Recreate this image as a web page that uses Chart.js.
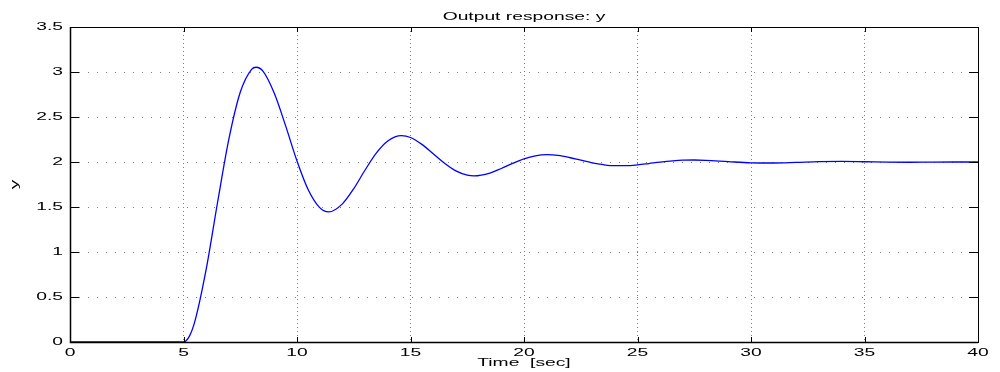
<!DOCTYPE html>
<html>
<head>
<meta charset="utf-8">
<script src="https://cdn.jsdelivr.net/npm/chart.js@4/dist/chart.umd.min.js"></script>
<style>
  html, body { margin: 0; padding: 0; background: #fff; }
  #wrap { width: 1000px; height: 372px; position: relative; }
</style>
</head>
<body>
<div id="wrap"><canvas id="c" width="1000" height="372"></canvas></div>
<script>
// ---- data ----
const timeSec = [0, 1, 2, 3, 4, 5, 5.25, 5.5, 6, 6.5, 7, 7.5, 8, 8.2, 8.5, 9, 9.5, 10, 10.5, 11, 11.4, 12, 12.5, 13, 13.5, 14, 14.6, 15, 15.5, 16, 16.5, 17, 17.5, 17.8, 18.5, 19, 19.5, 20, 20.5, 21, 21.5, 22, 22.5, 23, 23.5, 24, 24.5, 25, 25.5, 26, 27, 27.5, 28, 29, 30, 31, 32, 33, 34, 35, 36, 37, 38, 39, 40];
const outputY = [0, 0, 0, 0, 0, 0, 0.060, 0.229, 0.810, 1.550, 2.256, 2.775, 3.030, 3.053, 3.010, 2.764, 2.401, 2.011, 1.688, 1.493, 1.445, 1.535, 1.704, 1.911, 2.101, 2.233, 2.292, 2.272, 2.196, 2.092, 1.986, 1.901, 1.854, 1.846, 1.877, 1.928, 1.985, 2.036, 2.069, 2.081, 2.073, 2.050, 2.020, 1.991, 1.970, 1.959, 1.959, 1.968, 1.983, 1.999, 2.020, 2.022, 2.019, 2.004, 1.991, 1.989, 1.996, 2.004, 2.006, 2.003, 1.999, 1.997, 1.999, 2.000, 2.000];
const xTicks = [0, 5, 10, 15, 20, 25, 30, 35, 40];
const yTicks = [0, 0.5, 1, 1.5, 2, 2.5, 3, 3.5];
const chartTitle = 'Output response: y';
const xTitle = 'Time  [sec]';
const yTitle = 'y';

const points = timeSec.map((t, i) => ({ x: t, y: outputY[i] }));
const FONT = 'Liberation Sans, Arial, Helvetica, sans-serif';
const TEXT_STRETCH = 1.75; // reference text is horizontally stretched

const canvas = document.getElementById('c');
const ctx2d = canvas.getContext('2d');
const rawFill = CanvasRenderingContext2D.prototype.fillText;
ctx2d.fillText = function (t, x, y) {
  this.save();
  this.translate(x, y);
  this.scale(TEXT_STRETCH, 1);
  rawFill.call(this, t, 0, 0);
  this.restore();
};

const boxPlugin = {
  id: 'boxTicks',
  afterDatasetsDraw(chart) {
    const { ctx, chartArea: a, scales } = chart;
    ctx.save();
    ctx.strokeStyle = '#000';
    ctx.lineWidth = 1;
    ctx.strokeRect(Math.round(a.left) + 0.5, Math.round(a.top) + 0.5, Math.round(a.right - a.left), Math.round(a.bottom - a.top));
    ctx.beginPath();
    xTicks.forEach(v => {
      const px = Math.round(scales.x.getPixelForValue(v)) + 0.5;
      ctx.moveTo(px, a.bottom); ctx.lineTo(px, a.bottom - 5);
      ctx.moveTo(px, a.top); ctx.lineTo(px, a.top + 5);
    });
    yTicks.forEach(v => {
      const py = Math.round(scales.y.getPixelForValue(v)) + 0.5;
      ctx.moveTo(a.left, py); ctx.lineTo(a.left + 9, py);
      ctx.moveTo(a.right, py); ctx.lineTo(a.right - 9, py);
    });
    ctx.stroke();
    ctx.lineWidth = 1.5;
    ctx.beginPath();
    ctx.moveTo(a.left + 0.5, a.top); ctx.lineTo(a.left + 0.5, a.bottom + 0.5);
    ctx.lineTo(a.right, a.bottom + 0.5);
    ctx.stroke();
    ctx.restore();
  }
};

new Chart(canvas, {
  type: 'scatter',
  data: {
    datasets: [{
      data: points,
      showLine: true,
      borderColor: '#0000ff',
      borderWidth: 1.3,
      pointRadius: 0,
      fill: false,
      cubicInterpolationMode: 'monotone'
    }]
  },
  options: {
    responsive: false,
    animation: false,
    devicePixelRatio: 1,
    layout: { padding: { left: 0, right: 22, top: 0, bottom: 0 } },
    plugins: {
      legend: { display: false },
      tooltip: { enabled: false },
      title: {
        display: true,
        fullSize: false,
        text: chartTitle,
        color: '#000',
        font: { family: FONT, size: 11, weight: 'normal', lineHeight: 1.2 },
        padding: { top: 10.4, bottom: 3.4 }
      }
    },
    scales: {
      x: {
        type: 'linear',
        min: 0, max: 40,
        afterBuildTicks: s => { s.ticks = xTicks.map(v => ({ value: v })); },
        afterFit: s => { s.height = 30; },
        ticks: { color: '#000', font: { family: FONT, size: 11 }, padding: 4.5, maxRotation: 0, autoSkip: false, callback: v => String(v) },
        grid: { color: '#808080', lineWidth: 1, drawTicks: false },
        border: { display: false, dash: [1, 3] },
        title: {
          display: true, text: xTitle, color: '#000',
          font: { family: FONT, size: 11, lineHeight: 1.2 },
          padding: { top: 0, bottom: 2.5 }
        }
      },
      y: {
        type: 'linear',
        min: 0, max: 3.5,
        afterBuildTicks: s => { s.ticks = yTicks.map(v => ({ value: v })); },
        afterFit: s => { s.width = 70; },
        ticks: { color: '#000', font: { family: FONT, size: 11 }, padding: 7, autoSkip: false, callback: v => String(v) },
        grid: { color: '#808080', lineWidth: 1, drawTicks: false },
        border: { display: false, dash: [1, 8] },
        title: {
          display: true, text: yTitle, color: '#000',
          font: { family: FONT, size: 11, lineHeight: 1.2 },
          padding: { top: 8, bottom: 0 }
        }
      }
    }
  },
  plugins: [boxPlugin]
});
</script>
</body>
</html>
